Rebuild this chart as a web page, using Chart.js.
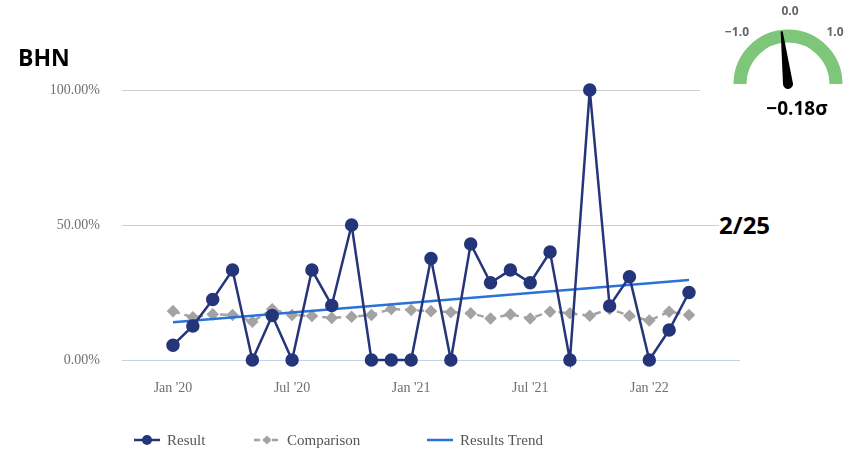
<!DOCTYPE html>
<html>
<head>
<meta charset="utf-8">
<script src="https://cdn.jsdelivr.net/npm/chart.js@4"></script>
<style>
  html, body { margin: 0; padding: 0; background: #fff; }
  #wrap { position: relative; width: 863px; height: 452px; overflow: hidden; }
  #chart { position: absolute; left: 0; top: 0; }
  #title { position: absolute; left: 18px; top: 41px; font: bold 23px "Open Sans", sans-serif; color: #000; }
  #count { position: absolute; left: 719px; top: 208px; font: bold 24px "Open Sans", sans-serif; color: #000; background: #fff; padding-right: 30px; }
  #gauge { position: absolute; left: 700px; top: 0; background: #fff; }
  .leg { position: absolute; top: 430px; font: 15px "Liberation Serif", serif; color: #555; height: 20px; line-height: 20px; }
  .leg canvas { vertical-align: middle; margin-right: 7px; position: relative; top: -2px; }
</style>
</head>
<body>
<div id="wrap">
  <canvas id="chart" width="863" height="452"></canvas>
  <div id="title">BHN</div>
  <div id="count">2/25</div>
  <canvas id="gauge" width="163" height="125"></canvas>
  <div class="leg" style="left:134px"><canvas id="lg0" width="26" height="12"></canvas>Result</div>
  <div class="leg" style="left:254px"><canvas id="lg1" width="26" height="12"></canvas>Comparison</div>
  <div class="leg" style="left:427px"><canvas id="lg2" width="26" height="12"></canvas>Results Trend</div>
</div>
<script>
// ===== data =====
const months = [
  "Jan '20", "Feb '20", "Mar '20", "Apr '20", "May '20", "Jun '20",
  "Jul '20", "Aug '20", "Sep '20", "Oct '20", "Nov '20", "Dec '20",
  "Jan '21", "Feb '21", "Mar '21", "Apr '21", "May '21", "Jun '21",
  "Jul '21", "Aug '21", "Sep '21", "Oct '21", "Nov '21", "Dec '21",
  "Jan '22", "Feb '22", "Mar '22"
];
const resultValues = [
  5.5, 12.6, 22.4, 33.3, 0, 16.5, 0, 33.3, 20.2, 50.0, 0, 0,
  0, 37.6, 0, 43.0, 28.6, 33.3, 28.6, 40.0, 0, 100.0, 20.0, 30.8,
  0, 11.1, 25.0
];
const comparisonValues = [
  18.1, 15.8, 16.9, 16.7, 14.2, 18.8, 16.7, 16.3, 15.6, 16.0, 16.7, 18.9,
  18.5, 18.1, 17.7, 17.3, 15.4, 16.9, 15.4, 17.9, 17.3, 16.4, 18.9, 16.4,
  14.6, 17.9, 16.7
];
// results trend: value at first and last month
const trendIndex = [0, 26];
const trendValues = [14.0, 29.6];
const xTickIndex = [0, 6, 12, 18, 24];
const yTicks = [0, 50, 100];
const gaugeValue = -0.18;

// ===== colours =====
const NAVY = "#25357a";
const GREY = "#a3a3a3";
const BLUE = "#2a72d8";

function toPoints(vals) {
  return vals.map((v, i) => ({ x: i, y: v }));
}

// ===== chart =====
const ctx = document.getElementById("chart").getContext("2d");

new Chart(ctx, {
  type: "line",
  data: {
    datasets: [
      {
        label: "Result",
        data: toPoints(resultValues),
        borderColor: NAVY,
        backgroundColor: NAVY,
        borderWidth: 2.5,
        pointRadius: 5.5,
        pointHoverRadius: 5.5,
        tension: 0,
        clip: false,
        order: 1
      },
      {
        label: "Comparison",
        data: toPoints(comparisonValues),
        borderColor: GREY,
        backgroundColor: GREY,
        borderWidth: 2.5,
        borderDash: [7, 5],
        pointStyle: "rectRot",
        pointRadius: 4.5,
        tension: 0,
        clip: false,
        order: 3
      },
      {
        label: "Results Trend",
        data: trendIndex.map((x, i) => ({ x: x, y: trendValues[i] })),
        borderColor: BLUE,
        borderWidth: 2.5,
        pointRadius: 0,
        tension: 0,
        order: 2
      }
    ]
  },
  options: {
    responsive: false,
    animation: false,
    layout: { padding: { top: 90, right: 123, left: 0, bottom: 0 } },
    plugins: {
      legend: { display: false },
      tooltip: { enabled: false }
    },
    scales: {
      x: {
        type: "linear",
        min: -2.57,
        max: 28.57,
        grid: { display: false },
        border: { display: false },
        afterBuildTicks: (scale) => {
          scale.ticks = xTickIndex.map(v => ({ value: v }));
        },
        afterFit: (scale) => { scale.height = 92; },
        ticks: {
          padding: 12,
          color: "#707070",
          font: { family: "Liberation Serif", size: 14 },
          callback: (v) => months[v]
        }
      },
      y: {
        min: 0,
        max: 100,
        afterBuildTicks: (scale) => {
          scale.ticks = yTicks.map(v => ({ value: v }));
        },
        afterFit: (scale) => { scale.width = 122; },
        grid: {
          drawTicks: false,
          color: (c) => c.tick.value === 0 ? "#c3d3e6" : "#cfcfcf",
          lineWidth: 1
        },
        border: { display: false },
        ticks: {
          padding: 22,
          color: "#707070",
          font: { family: "Liberation Serif", size: 14 },
          callback: (v) => v.toFixed(2) + "%"
        }
      }
    }
  }
});

// ===== legend markers =====
function drawLegendMark(id, color, marker, dash) {
  const c = document.getElementById(id).getContext("2d");
  c.strokeStyle = color;
  c.fillStyle = color;
  c.lineWidth = 2.5;
  c.setLineDash(dash);
  c.beginPath();
  c.moveTo(0, 6);
  c.lineTo(26, 6);
  c.stroke();
  if (marker === "circle") {
    c.beginPath();
    c.arc(13, 6, 5, 0, Math.PI * 2);
    c.fill();
  } else if (marker === "diamond") {
    c.beginPath();
    c.moveTo(13, 1.5);
    c.lineTo(17.5, 6);
    c.lineTo(13, 10.5);
    c.lineTo(8.5, 6);
    c.closePath();
    c.fill();
  }
}
drawLegendMark("lg0", NAVY, "circle", []);
drawLegendMark("lg1", GREY, "diamond", [6, 3]);
drawLegendMark("lg2", BLUE, "none", []);

// ===== gauge =====
(function drawGauge() {
  const g = document.getElementById("gauge").getContext("2d");
  const cx = 88, cy = 84;
  g.fillStyle = "#fff";
  g.fillRect(0, 0, 163, 125);

  g.strokeStyle = "#7dc67a";
  g.lineWidth = 13;
  g.beginPath();
  g.arc(cx, cy, 48, Math.PI, 0);
  g.stroke();

  g.fillStyle = "#666";
  g.font = "bold 12px 'Open Sans', sans-serif";
  g.textAlign = "center";
  g.textBaseline = "middle";
  g.fillText("\u22121.0", 37, 33);
  g.fillText("0.0", 90, 12);
  g.fillText("1.0", 135, 33);

  // needle, tilted slightly to the left of 0
  const tilt = 0.12;
  g.save();
  g.translate(cx, cy);
  g.rotate(-tilt);
  g.fillStyle = "#000";
  g.beginPath();
  g.moveTo(-1, -53);
  g.lineTo(1, -53);
  g.lineTo(5, 0);
  g.arc(0, 0, 5, 0, Math.PI);
  g.closePath();
  g.fill();
  g.restore();

  g.fillStyle = "#000";
  g.font = "bold 19px 'Open Sans', sans-serif";
  g.textAlign = "center";
  g.fillText("\u2212" + Math.abs(gaugeValue).toFixed(2) + "\u03c3", 97, 110);
})();
</script>
</body>
</html>
